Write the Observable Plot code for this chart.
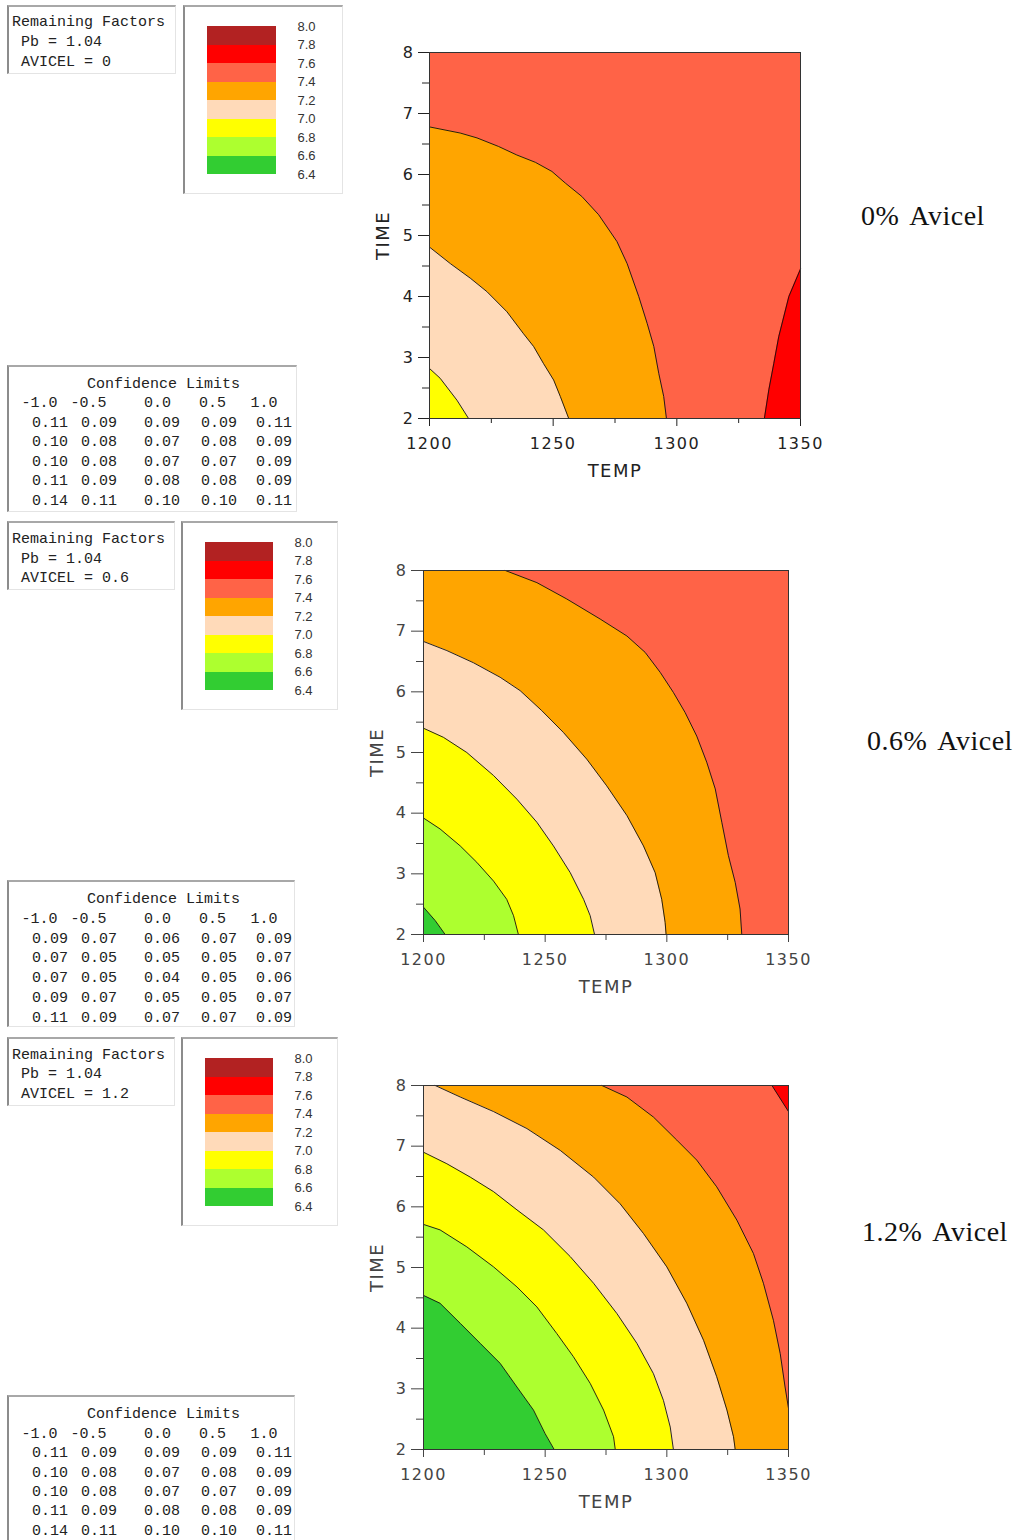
<!DOCTYPE html>
<html>
<head>
<meta charset="utf-8">
<script src="https://cdn.jsdelivr.net/npm/d3@7"></script>
<script src="https://cdn.jsdelivr.net/npm/@observablehq/plot@0.6"></script>
<style>
  body { margin: 0; background: #fff; }
  #page { position: relative; width: 1016px; height: 1540px; overflow: hidden; background: #fff; }
  .box { position: absolute; box-sizing: border-box; background: #fff;
         border-left: 2px solid #8c8c8c; border-top: 2px solid #a8a8a8;
         border-right: 1px solid #e4e4e4; border-bottom: 1px solid #e4e4e4; }
  .mono { position: absolute; font-family: "Liberation Mono", "DejaVu Sans Mono", monospace;
          font-size: 15px; line-height: 1; color: #222; white-space: pre; transform: translateY(-50%); }
  .side { position: absolute; font-family: "Liberation Serif", serif; font-size: 28px;
          line-height: 1; letter-spacing: 0.5px; word-spacing: 4px; color: #111; white-space: nowrap; }
</style>
</head>
<body>
<div id="page"></div>
<script>
// Contour levels (response scale) and the fill colour of each band between them
const levels = [6.4, 6.6, 6.8, 7.0, 7.2, 7.4, 7.6, 7.8, 8.0];
const bandColors = ["#32CD32", "#ADFF2F", "#FFFF00", "#FFDAB9", "#FFA500", "#FF6347", "#FF0000", "#B22222"];

// Axes
const tempDomain = [1200, 1350];
const timeDomain = [2, 8];
const tempTicks = [1200, 1250, 1300, 1350];
const tempMinor = [1225, 1275, 1325];
const timeTicks = [2, 3, 4, 5, 6, 7, 8];
const timeMinor = [2.5, 3.5, 4.5, 5.5, 6.5, 7.5];

// Panel settings
const panelTitles = ["0% Avicel", "0.6% Avicel", "1.2% Avicel"];
const avicelLevels = ["0", "0.6", "1.2"];
const pbLevel = "1.04";

// Contour lines as [TEMP, TIME] points — AVICEL = 0
const c0_70 = [[1200, 2.82], [1204.3, 2.66], [1211.1, 2.30], [1215.8, 2]];
const c0_72 = [[1200, 4.81], [1208.4, 4.54], [1216.5, 4.30], [1223.2, 4.08], [1231.3, 3.75], [1238.0, 3.39],
               [1242.1, 3.18], [1246.1, 2.90], [1250.2, 2.63], [1252.9, 2.36], [1256.3, 2]];
const c0_74 = [[1200, 6.78], [1212.4, 6.68], [1219.2, 6.60], [1227.9, 6.46], [1235.3, 6.32], [1242.8, 6.20],
               [1249.5, 6.05], [1254.9, 5.86], [1261.6, 5.64], [1268.4, 5.34], [1275.8, 4.90], [1279.9, 4.54],
               [1284.6, 4.00], [1288.0, 3.56], [1290.7, 3.18], [1292.7, 2.74], [1294.7, 2.36], [1295.8, 2]];
const c0_76 = [[1335.4, 2], [1337.2, 2.47], [1339.2, 2.90], [1341.2, 3.34], [1345.3, 4.00], [1350, 4.45]];

// AVICEL = 0.6
const c6_66 = [[1200, 2.45], [1204.8, 2.23], [1208.9, 2]];
const c6_68 = [[1200, 3.92], [1206.8, 3.74], [1215.1, 3.46], [1221.9, 3.19], [1228.8, 2.88], [1234.2, 2.58],
               [1237.0, 2.31], [1239.0, 2]];
const c6_70 = [[1200, 5.40], [1208.2, 5.25], [1217.8, 5.00], [1228.8, 4.62], [1238.4, 4.23], [1246.6, 3.85],
               [1253.4, 3.46], [1260.3, 3.02], [1265.8, 2.58], [1268.5, 2.31], [1270.3, 2]];
const c6_72 = [[1200, 6.83], [1209.6, 6.68], [1220.5, 6.48], [1231.5, 6.24], [1239.7, 6.02], [1248.6, 5.69],
               [1257.5, 5.33], [1267.1, 4.89], [1275.3, 4.45], [1283.6, 3.96], [1290.4, 3.46], [1295.2, 3.02],
               [1297.9, 2.58], [1299.3, 2.20], [1299.7, 2]];
const c6_74 = [[1233.6, 8], [1246.6, 7.80], [1258.9, 7.53], [1272.6, 7.20], [1283.6, 6.92], [1291.1, 6.65],
               [1297.3, 6.32], [1302.7, 5.99], [1307.5, 5.66], [1312.3, 5.27], [1316.4, 4.84], [1319.9, 4.40],
               [1322.6, 3.85], [1325.3, 3.30], [1328.1, 2.86], [1330.1, 2.42], [1330.8, 2]];

// AVICEL = 1.2
const c12_66 = [[1200, 4.54], [1206.8, 4.41], [1215.1, 4.08], [1223.3, 3.75], [1231.5, 3.42], [1238.4, 3.03],
                [1245.2, 2.65], [1250.0, 2.26], [1253.7, 2]];
const c12_68 = [[1200, 5.71], [1206.8, 5.62], [1217.8, 5.34], [1228.8, 5.01], [1238.4, 4.68], [1246.6, 4.35],
                [1254.8, 3.91], [1261.6, 3.53], [1268.5, 3.09], [1274.0, 2.65], [1278.1, 2.21], [1278.8, 2]];
const c12_70 = [[1200, 6.90], [1209.6, 6.71], [1219.2, 6.49], [1228.8, 6.25], [1238.4, 5.95], [1249.3, 5.62],
                [1260.3, 5.18], [1269.9, 4.74], [1279.5, 4.24], [1287.7, 3.75], [1294.5, 3.25], [1298.6, 2.81],
                [1301.4, 2.37], [1302.7, 2]];
const c12_72 = [[1204.8, 8], [1215.1, 7.81], [1228.8, 7.57], [1242.5, 7.29], [1256.2, 6.93], [1269.9, 6.49],
                [1280.8, 6.05], [1290.4, 5.56], [1300.0, 5.01], [1308.2, 4.41], [1315.1, 3.80], [1320.5, 3.20],
                [1324.7, 2.65], [1327.4, 2.21], [1328.1, 2]];
const c12_74 = [[1273.3, 8], [1283.6, 7.81], [1294.5, 7.48], [1304.1, 7.10], [1312.3, 6.77], [1320.5, 6.33],
                [1328.8, 5.78], [1335.6, 5.23], [1339.7, 4.74], [1343.8, 4.13], [1346.6, 3.58], [1348.6, 3.03],
                [1350, 2.68]];
const c12_76 = [[1343.2, 8], [1350, 7.57]];

// Confidence limits tables
const ciHeader = ["-1.0", "-0.5", "0.0", "0.5", "1.0"];
const ci0 = [[0.11, 0.09, 0.09, 0.09, 0.11], [0.10, 0.08, 0.07, 0.08, 0.09], [0.10, 0.08, 0.07, 0.07, 0.09],
             [0.11, 0.09, 0.08, 0.08, 0.09], [0.14, 0.11, 0.10, 0.10, 0.11]];
const ci6 = [[0.09, 0.07, 0.06, 0.07, 0.09], [0.07, 0.05, 0.05, 0.05, 0.07], [0.07, 0.05, 0.04, 0.05, 0.06],
             [0.09, 0.07, 0.05, 0.05, 0.07], [0.11, 0.09, 0.07, 0.07, 0.09]];
const ci12 = [[0.11, 0.09, 0.09, 0.09, 0.11], [0.10, 0.08, 0.07, 0.08, 0.09], [0.10, 0.08, 0.07, 0.07, 0.09],
              [0.11, 0.09, 0.08, 0.08, 0.09], [0.14, 0.11, 0.10, 0.10, 0.11]];

// Each region: the contour at `level`, filled on its low ("below") or high ("above") side
const panels = [
  { regions: [{level: 7.4, side: "below", curve: c0_74}, {level: 7.2, side: "below", curve: c0_72},
              {level: 7.0, side: "below", curve: c0_70}, {level: 7.6, side: "above", curve: c0_76}],
    ci: ci0,
    frame: {left: 429, top: 52, w: 371, h: 366}, ytick: [11, 7], xtick: [8, 5], ink: "#222",
    rf: {left: 7, top: 5, w: 169, h: 69, ys: [20.5, 41, 61]},
    legendBox: {left: 183, top: 5, w: 160, h: 189}, swatch: {left: 207, top: 26, w: 69, h: 148},
    table: {left: 7, top: 365, w: 290, h: 147, y0: 382.5, step: 19.5},
    side: {left: 861, baseline: 225} },
  { regions: [{level: 7.4, side: "below", curve: c6_74}, {level: 7.2, side: "below", curve: c6_72},
              {level: 7.0, side: "below", curve: c6_70}, {level: 6.8, side: "below", curve: c6_68},
              {level: 6.6, side: "below", curve: c6_66}],
    ci: ci6,
    frame: {left: 423, top: 570, w: 365, h: 364}, ytick: [12, 7], xtick: [8, 6], ink: "#444",
    rf: {left: 7, top: 521, w: 168, h: 69, ys: [538.3, 557.7, 576.7]},
    legendBox: {left: 181, top: 521, w: 157, h: 189}, swatch: {left: 205, top: 542, w: 68, h: 148},
    table: {left: 7, top: 880, w: 288, h: 147, y0: 898.3, step: 19.7},
    side: {left: 867, baseline: 750} },
  { regions: [{level: 7.4, side: "below", curve: c12_74}, {level: 7.2, side: "below", curve: c12_72},
              {level: 7.0, side: "below", curve: c12_70}, {level: 6.8, side: "below", curve: c12_68},
              {level: 6.6, side: "below", curve: c12_66}, {level: 7.6, side: "above", curve: c12_76}],
    ci: ci12,
    frame: {left: 423, top: 1085, w: 365, h: 364}, ytick: [12, 7], xtick: [8, 6], ink: "#444",
    rf: {left: 7, top: 1037, w: 168, h: 69, ys: [1054.3, 1073.3, 1092.7]},
    legendBox: {left: 181, top: 1037, w: 157, h: 189}, swatch: {left: 205, top: 1058, w: 68, h: 148},
    table: {left: 7, top: 1395, w: 288, h: 155, y0: 1413.3, step: 19.4},
    side: {left: 862, baseline: 1241} }
];

const page = document.getElementById("page");

function place(el, left, top) {
  el.style.position = "absolute";
  el.style.left = left + "px";
  el.style.top = top + "px";
  page.appendChild(el);
  return el;
}
function box(b) {
  const d = document.createElement("div");
  d.className = "box";
  d.style.width = b.w + "px";
  d.style.height = b.h + "px";
  return place(d, b.left, b.top);
}
function mono(text, left, cy) {
  const d = document.createElement("div");
  d.className = "mono";
  d.textContent = text;
  return place(d, left, cy + 1);
}

// Filled contour plot for one AVICEL level
function contourChart(p) {
  const f = p.frame;
  const mL = 70, mR = 30, mT = 22, mB = 70;
  const [x0, x1] = tempDomain, [y0, y1] = timeDomain;
  const marks = [Plot.frame({fill: bandColors[levels.indexOf(7.4)]})];
  for (const r of p.regions) {
    const k = levels.indexOf(r.level);
    if (r.side === "below") {
      const pts = r.curve[0][1] === y1 ? [[x0, y1], ...r.curve] : r.curve;
      marks.push(Plot.areaY(pts, {x: d => d[0], y1: y0, y2: d => d[1], fill: bandColors[k - 1], curve: "linear"}));
    } else {
      const pts = r.curve.slice().sort((a, b) => a[1] - b[1]);
      marks.push(Plot.areaX(pts, {y: d => d[1], x1: d => d[0], x2: x1, fill: bandColors[k], curve: "linear"}));
    }
  }
  for (const r of p.regions) {
    marks.push(Plot.line(r.curve, {x: d => d[0], y: d => d[1], stroke: "#111", strokeWidth: 0.9}));
  }
  marks.push(
    Plot.axisX(tempTicks, {tickSize: p.xtick[0], tickPadding: 11, tickFormat: "d"}),
    Plot.axisX(tempMinor, {tickSize: p.xtick[1], tickFormat: () => ""}),
    Plot.axisY(timeTicks, {tickSize: p.ytick[0], tickPadding: 4, tickFormat: "d"}),
    Plot.axisY(timeMinor, {tickSize: p.ytick[1], tickFormat: () => ""}),
    Plot.text(["TIME"], {text: d => d, frameAnchor: "left", dx: -46, rotate: -90,
                         textAnchor: "middle", lineAnchor: "middle", fontSize: 18}),
    Plot.text(["TEMP"], {text: d => d, frameAnchor: "bottom", dy: 53,
                         textAnchor: "middle", lineAnchor: "middle", fontSize: 18}),
    Plot.frame({stroke: "#333", strokeWidth: 1})
  );
  const svg = Plot.plot({
    width: f.w + mL + mR, height: f.h + mT + mB,
    marginLeft: mL, marginRight: mR, marginTop: mT, marginBottom: mB,
    x: {domain: tempDomain, label: null},
    y: {domain: timeDomain, label: null},
    style: {fontFamily: "DejaVu Sans, sans-serif", fontSize: "16px", letterSpacing: "1.5px",
            color: p.ink, background: "transparent", overflow: "visible"},
    marks
  });
  return place(svg, f.left - mL, f.top - mT);
}

// Vertical colour key with a label at each contour level
function legendChart(p) {
  const s = p.swatch;
  const bands = bandColors.map((c, i) => ({lo: levels[i], hi: levels[i + 1], color: c}));
  const svg = Plot.plot({
    width: s.w + 60, height: s.h + 20,
    marginLeft: 0, marginRight: 60, marginTop: 10, marginBottom: 10,
    y: {domain: [levels[0], levels[levels.length - 1]], axis: null},
    color: {type: "identity"},
    style: {fontFamily: "Liberation Sans, Arial, sans-serif", fontSize: "13px", color: "#333",
            background: "transparent", overflow: "visible"},
    marks: [
      Plot.barY(bands, {y1: d => d.lo, y2: d => d.hi, fill: d => d.color, shapeRendering: "crispEdges"}),
      Plot.text(levels, {y: d => d, text: d => d.toFixed(1), frameAnchor: "right", dx: 21,
                         textAnchor: "start", lineAnchor: "middle"})
    ]
  });
  return place(svg, s.left, s.top - 10);
}

const headerLefts = [21.5, 70.5, 144, 199, 250.5];
const cellLefts = [32, 81, 144, 201, 256];

panels.forEach((p, i) => {
  // Remaining factors box
  box(p.rf);
  mono("Remaining Factors", 12, p.rf.ys[0]);
  mono(" Pb = " + pbLevel, 12, p.rf.ys[1]);
  mono(" AVICEL = " + avicelLevels[i], 12, p.rf.ys[2]);

  // Legend box and key
  box(p.legendBox);
  legendChart(p);

  // Confidence limits table
  const t = p.table;
  box(t);
  mono("Confidence Limits", 87, t.y0);
  ciHeader.forEach((h, j) => mono(h, headerLefts[j], t.y0 + t.step));
  p.ci.forEach((row, r) => row.forEach((v, j) => mono(v.toFixed(2), cellLefts[j], t.y0 + t.step * (r + 2))));

  // Contour plot
  contourChart(p);

  // Panel title on the right
  const d = document.createElement("div");
  d.className = "side";
  d.textContent = panelTitles[i];
  place(d, p.side.left, p.side.baseline - 23.5);
});
</script>
</body>
</html>
